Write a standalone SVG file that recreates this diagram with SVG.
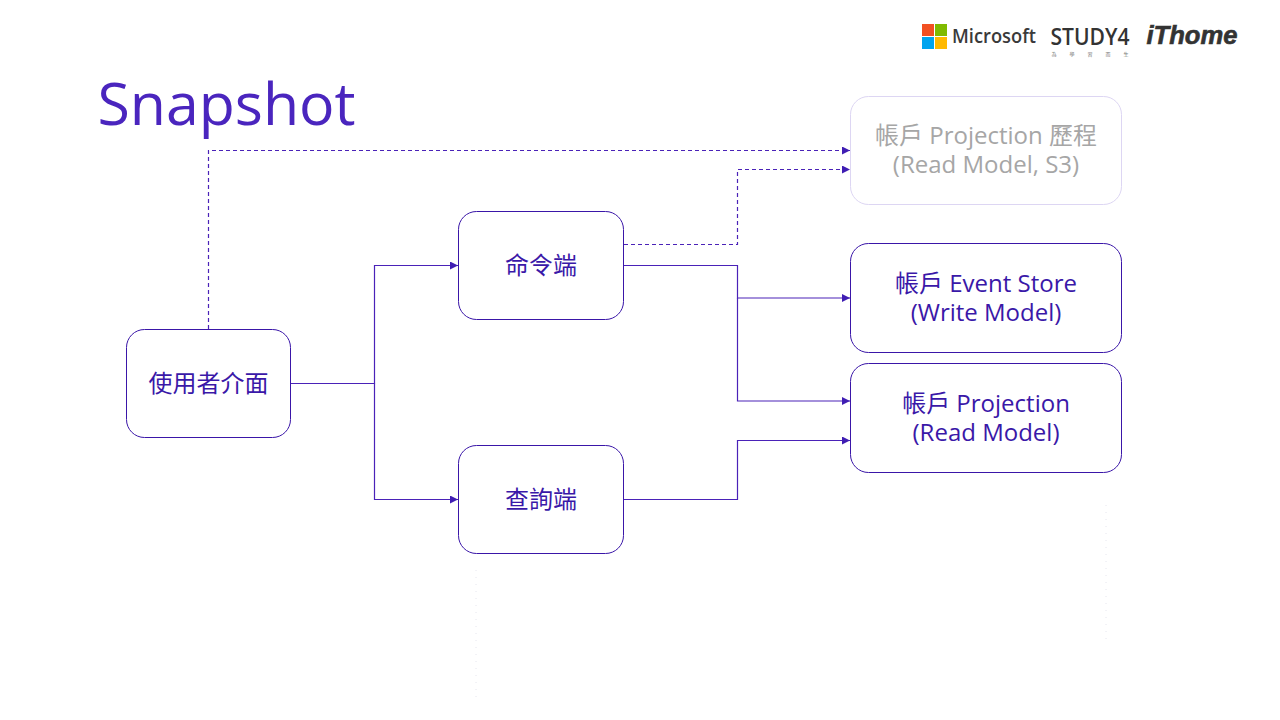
<svg xmlns="http://www.w3.org/2000/svg" width="1280" height="720" viewBox="0 0 1280 720">
<style>
text{font-family:"Open Sans","Noto Sans","Noto Sans CJK TC",sans-serif;text-anchor:middle;fill:#3A18A8}
.n{fill:#fff;stroke:#3A16A8;stroke-width:1}
.l{font-size:24px;font-weight:400}
.c{fill:none;stroke:#4A22B8;stroke-width:1.2}
.d{stroke-dasharray:4 3}
.g{fill:#A6A6A6}
.f{fill:none;stroke:#E6E6EE;stroke-width:1;stroke-dasharray:1 6}
</style>
<defs>
<marker id="a" markerWidth="9" markerHeight="8" refX="8" refY="4" orient="auto" markerUnits="userSpaceOnUse"><path d="M0 0L8 4L0 8Z" fill="#3F1DB3"/></marker>
</defs>
<rect width="1280" height="720" fill="#fff"/>
<g id="logos">
<rect x="922" y="24" width="12" height="12" fill="#F25022"/>
<rect x="935" y="24" width="12" height="12" fill="#7FBA00"/>
<rect x="922" y="37" width="12" height="12" fill="#00A4EF"/>
<rect x="935" y="37" width="12" height="12" fill="#FFB900"/>
<text x="994" y="43" style="font-size:20px;font-weight:600;fill:#3a3a3a" textLength="84" lengthAdjust="spacingAndGlyphs">Microsoft</text>
<text x="1090" y="45" style="font-size:24px;font-weight:600;fill:#333" textLength="79" lengthAdjust="spacingAndGlyphs">STUDY4</text>
<text x="1096.500" y="56" style="font-size:5px;fill:#777;font-family:'Noto Sans CJK TC',sans-serif;letter-spacing:13px">為學習而生</text>
<text x="1192" y="44" style="font-size:26px;font-weight:900;font-style:italic;fill:#333;font-family:'Liberation Sans',sans-serif;stroke:#333;stroke-width:.6" textLength="91" lengthAdjust="spacingAndGlyphs">iThome</text>
</g>
<text id="title" x="226.500" y="125" style="font-size:59px;font-weight:400;fill:#4A25BE">Snapshot</text>
<g id="connectors">
<path class="f" d="M476 570V700M1106 505V640"/>
<path class="c d" marker-end="url(#a)" d="M208.500 329V150.500H850"/>
<path class="c d" marker-end="url(#a)" d="M624 244.500H737.500V169.500H850"/>
<path class="c" marker-end="url(#a)" d="M291 383.500H374.500V265.500H458"/>
<path class="c" marker-end="url(#a)" d="M374.500 383.500V499.500H458"/>
<path class="c" marker-end="url(#a)" d="M624 265.500H737.500V298H850"/>
<path class="c" marker-end="url(#a)" d="M737.500 298V401H850"/>
<path class="c" marker-end="url(#a)" d="M624 499.500H737.500V440.500H850"/>
</g>
<g id="node-ui"><rect class="n" x="126.500" y="329.500" width="164" height="108" rx="18"/><text class="l" x="208.500" y="391.500">使用者介面</text></g>
<g id="node-cmd"><rect class="n" x="458.500" y="211.500" width="165" height="108" rx="18"/><text class="l" x="541" y="273.500">命令端</text></g>
<g id="node-qry"><rect class="n" x="458.500" y="445.500" width="165" height="108" rx="18"/><text class="l" x="541" y="507.500">查詢端</text></g>
<g id="node-history"><rect x="850.500" y="96.500" width="271" height="108" rx="18" fill="#fff" stroke="#DDD6F3"/><text class="l g" x="986" y="144">帳戶 Projection 歷程</text><text class="l g" x="986" y="173">(Read Model, S3)</text></g>
<g id="node-es"><rect class="n" x="850.500" y="243.500" width="271" height="109" rx="18"/><text class="l" x="986" y="292">帳戶 Event Store</text><text class="l" x="986" y="321">(Write Model)</text></g>
<g id="node-proj"><rect class="n" x="850.500" y="363.500" width="271" height="109" rx="18"/><text class="l" x="986" y="412">帳戶 Projection</text><text class="l" x="986" y="441">(Read Model)</text></g>
</svg>
